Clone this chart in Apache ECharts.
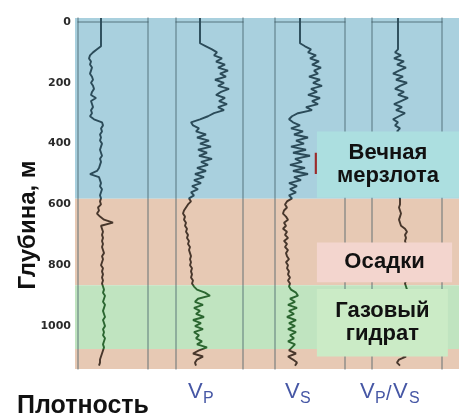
<!DOCTYPE html>
<html><head><meta charset="utf-8">
<script src="https://cdn.jsdelivr.net/npm/echarts@6/dist/echarts.min.js"></script>
<style>html,body{margin:0;padding:0;background:#fff}#c{width:459px;height:414px}</style>
</head><body><div id="c"></div><script>
// ---------- DATA ----------
const depths = [-13,0,10,20,30,40,50,60,70,80,
 90,100,110,120,130,140,150,160,170,180,
 190,200,210,220,230,240,250,260,270,280,
 290,300,310,320,330,340,350,360,370,380,
 390,400,410,420,430,440,450,460,470,480,
 490,500,510,520,530,540,550,560,570,580,
 590,600,610,620,630,640,650,660,670,680,
 690,700,710,720,730,740,750,760,770,780,
 790,800,810,820,830,840,850,860,870,880,
 890,900,910,920,930,940,950,960,970,980,
 990,1000,1010,1020,1030,1040,1050,1060,1070,1080,
 1090,1100,1110,1120,1130];

const density = [1.76,1.76,1.76,1.76,1.76,1.76,1.76,1.76,1.76,1.76,
 1.68,1.60,1.54,1.52,1.56,1.54,1.58,1.56,1.54,1.58,
 1.60,1.56,1.60,1.62,1.58,1.56,1.66,1.56,1.58,1.60,
 1.56,1.58,1.54,1.62,1.78,1.80,1.76,1.78,1.74,1.76,
 1.74,1.78,1.76,1.74,1.76,1.78,1.74,1.76,1.74,1.72,
 1.68,1.54,1.72,1.74,1.76,1.74,1.78,1.76,1.74,1.76,
 1.74,1.76,1.70,1.72,1.68,1.74,1.82,2.00,1.76,1.78,
 1.80,1.78,1.80,1.78,1.80,1.78,1.80,1.82,1.78,1.80,
 1.78,1.76,1.80,1.78,1.80,1.78,1.80,1.78,1.80,1.82,
 1.80,1.84,1.82,1.80,1.84,1.82,1.80,1.82,1.84,1.80,
 1.82,1.84,1.80,1.82,1.80,1.84,1.82,1.80,1.82,1.80,
 1.78,1.76,1.74,1.74,1.72];

const vp = [2.20,2.20,2.20,2.20,2.20,2.20,2.20,2.20,2.20,2.50,
 2.80,3.05,2.90,3.30,3.00,3.45,3.10,3.60,3.20,3.50,
 2.95,3.40,3.10,3.65,3.25,3.00,3.45,3.15,3.55,3.10,
 3.40,2.90,2.60,2.20,1.75,1.85,2.15,2.00,2.50,2.05,
 2.65,2.20,2.75,2.10,2.55,2.15,2.80,2.25,2.60,2.05,
 2.50,1.95,2.40,1.90,2.25,1.80,2.10,1.75,1.90,1.65,
 1.75,1.60,1.50,1.40,1.35,1.45,1.40,1.50,1.45,1.55,
 1.50,1.60,1.55,1.65,1.60,1.70,1.65,1.70,1.75,1.70,
 1.75,1.70,1.80,1.75,1.80,1.75,1.85,1.80,1.90,2.05,
 2.45,2.70,2.10,1.95,2.35,1.90,2.20,2.00,2.40,1.85,
 2.25,1.95,2.35,1.90,2.15,2.00,2.30,2.05,2.55,2.15,
 1.85,2.35,2.05,1.95,2.00];

const vs = [0.50,0.50,0.50,0.50,0.50,0.50,0.50,0.50,0.50,0.60,
 0.72,0.66,0.82,0.70,0.88,0.74,0.92,0.78,0.86,0.68,
 0.90,0.76,0.94,0.72,0.84,0.66,0.90,0.74,0.86,0.62,
 0.74,0.46,0.34,0.28,0.36,0.50,0.32,0.56,0.38,0.66,
 0.42,0.58,0.32,0.62,0.36,0.70,0.40,0.54,0.30,0.60,
 0.36,0.66,0.38,0.52,0.28,0.44,0.30,0.42,0.28,0.34,
 0.24,0.20,0.24,0.18,0.16,0.22,0.26,0.18,0.22,0.16,
 0.24,0.20,0.26,0.18,0.24,0.20,0.26,0.22,0.24,0.28,
 0.22,0.26,0.24,0.28,0.26,0.30,0.26,0.30,0.28,0.32,
 0.42,0.46,0.30,0.40,0.26,0.44,0.28,0.38,0.24,0.42,
 0.28,0.40,0.26,0.42,0.30,0.38,0.26,0.40,0.34,0.28,
 0.42,0.26,0.36,0.44,0.40];

const vpvs = [3.6,3.6,3.6,3.6,3.6,3.6,3.6,3.6,3.6,3.6,
 3.6,3.3,3.9,3.2,4.2,3.5,4.4,3.7,3.1,4.1,
 3.4,4.5,3.8,3.3,4.2,3.6,4.6,3.9,3.2,4.0,
 3.4,4.3,3.7,3.1,3.6,3.3,3.8,3.5,4.0,3.4,
 4.2,3.6,3.9,3.4,4.1,3.7,4.0,3.5,3.9,3.6,
 4.1,3.7,3.9,3.6,3.8,3.7,3.9,3.8,3.7,3.8,
 3.8,3.8,3.7,3.8,3.9,3.8,3.7,3.8,3.9,4.3,
 4.5,4.3,4.4,4.3,4.4,4.3,4.5,4.3,4.4,4.3,
 4.5,4.4,4.3,4.4,4.5,4.3,4.4,4.3,4.4,4.5,
 4.6,4.3,4.7,4.2,4.6,4.3,4.5,4.2,4.6,4.3,
 4.5,4.2,4.6,4.4,4.2,4.5,4.3,4.6,4.4,3.9,
 3.6,4.4,3.7,3.5,3.8];

// short red marker in the Vs track
const markDepths = [430, 500];
const markVs = [0.82, 0.82];

// depth zones (background bands)
const zoneTop = [-13, 581, 866, 1075];
const zoneBottom = [581, 866, 1075, 1141];

// zone labels
const labelText = ['Вечная\nмерзлота', 'Осадки', 'Газовый\nгидрат'];
const labelTop = [360, 725, 878];
const labelBottom = [578, 856, 1100];

const depthTicks = [0, 200, 400, 600, 800, 1000];

// ---------- STYLES ----------
const zoneColors = ['#a9d0de', '#e7c9b4', '#c0e4c0', '#e7c9b4'];
const boxColors = ['#acdfe0', '#f3d5ce', '#cbebc6'];
const boxLeft = 0.63, boxRight = [1.0, 0.982, 0.971];
const DMIN = -13, DMAX = 1141;
const TOP = 18, H = 351;
const trackLine = {show: true, lineStyle: {color: 'rgba(60,85,95,0.5)', width: 1.5}};

const chart = echarts.init(document.getElementById('c'), null, {renderer: 'canvas'});
const pair = (vals) => depths.map((d, i) => [vals[i], d]);
const hidden = {axisTick: {show: false}, axisLabel: {show: false}, splitLine: {show: false}};
const trackY = (gi, pos) => Object.assign({gridIndex: gi, type: 'value', inverse: true, min: DMIN, max: DMAX,
  position: pos, axisLine: trackLine, z: 3}, hidden);
const trackX = (gi, mn, mx) => Object.assign({gridIndex: gi, type: 'value', min: mn, max: mx,
  position: 'bottom', axisLine: trackLine, z: 3}, hidden);
const trackGrid = (left, width) => ({left: left, top: TOP, width: width, height: H});

const lineSeries = (vals, gi) => ({
  type: 'line', xAxisIndex: gi, yAxisIndex: gi, data: pair(vals), showSymbol: false,
  symbol: 'none', lineStyle: {width: 1.9}, z: 4, animation: false
});

const font = (w, s) => w + ' ' + s + 'px "Liberation Sans", Arial, sans-serif';
const vText = (x, y, t, size) => ({type: 'text', x: x, y: y,
  style: {text: t, fill: '#4657a5', verticalAlign: 'middle', font: font('normal', size)}});

const option = {
  animation: false,
  grid: [
    {left: 75, top: TOP, width: 384, height: H},
    trackGrid(78, 70),
    trackGrid(176, 67),
    trackGrid(275, 70),
    trackGrid(372, 70),
    {left: 75, top: TOP, width: 384, height: H}
  ],
  xAxis: [
    {gridIndex: 0, type: 'value', min: 0, max: 1, show: false},
    trackX(1, 1.3, 2.7),
    trackX(2, 1.0, 4.35),
    trackX(3, 0, 1.4),
    trackX(4, 1, 8),
    {gridIndex: 5, type: 'value', min: 0, max: 1, show: false}
  ],
  yAxis: [
    {gridIndex: 0, type: 'value', inverse: true, min: DMIN, max: DMAX,
     axisLine: {show: false}, axisTick: {show: false}, splitLine: {show: false},
     axisLabel: {customValues: depthTicks, margin: 4, color: '#2a2a2a', formatter: (v) => String(v),
       fontFamily: 'DejaVu Sans', fontWeight: 'bold', fontSize: 11}},
    trackY(1, 'left'), trackY(2, 'left'), trackY(3, 'left'), trackY(4, 'left'),
    {gridIndex: 5, type: 'value', inverse: true, min: DMIN, max: DMAX, show: false},
    trackY(1, 'right'), trackY(2, 'right'), trackY(3, 'right'), trackY(4, 'right')
  ],
  visualMap: [{
    type: 'piecewise', show: false, seriesIndex: [1, 2, 3, 4], dimension: 1,
    pieces: [
      {lt: 581, color: '#2b4b59'},
      {gte: 581, lt: 866, color: '#47362b'},
      {gte: 866, lt: 1075, color: '#2b6630'},
      {gte: 1075, color: '#47362b'}
    ]
  }],
  series: [
    {
      type: 'custom', xAxisIndex: 0, yAxisIndex: 0, z: 1, silent: true,
      data: zoneTop.map((t, i) => [i, t, zoneBottom[i]]),
      encode: {x: 0, y: [1, 2]},
      renderItem: function (params, api) {
        const i = api.value(0);
        const p0 = api.coord([0, api.value(1)]);
        const p1 = api.coord([1, api.value(2)]);
        return {type: 'rect', shape: {x: p0[0], y: p0[1], width: p1[0] - p0[0], height: p1[1] - p0[1]},
          style: {fill: zoneColors[i]}};
      }
    },
    lineSeries(density, 1),
    lineSeries(vp, 2),
    lineSeries(vs, 3),
    lineSeries(vpvs, 4),
    {
      type: 'line', xAxisIndex: 3, yAxisIndex: 3, z: 5, showSymbol: false, symbol: 'none',
      data: markDepths.map((d, i) => [markVs[i], d]),
      lineStyle: {width: 2.5, color: '#9b2b2b'}
    },
    {
      type: 'custom', xAxisIndex: 5, yAxisIndex: 5, z: 10, silent: true,
      data: labelTop.map((t, i) => [i, t, labelBottom[i]]),
      encode: {x: 0, y: [1, 2]},
      renderItem: function (params, api) {
        const i = api.value(0);
        const p0 = api.coord([boxLeft, api.value(1)]);
        const p1 = api.coord([boxRight[i], api.value(2)]);
        return {type: 'group', children: [
          {type: 'rect', shape: {x: p0[0], y: p0[1], width: p1[0] - p0[0], height: p1[1] - p0[1]},
            style: {fill: boxColors[i]}},
          {type: 'text', x: (p0[0] + p1[0]) / 2, y: (p0[1] + p1[1]) / 2,
            style: {text: labelText[i], fill: '#111', align: 'center', verticalAlign: 'middle',
              font: font('bold', 22), lineHeight: 23}}
        ]};
      }
    }
  ],
  graphic: [
    {type: 'text', x: 28, y: 225, rotation: Math.PI / 2,
     style: {text: 'Глубина, м', fill: '#111', align: 'center', verticalAlign: 'middle', font: font('bold', 24)}},
    {type: 'text', x: 17, y: 406,
     style: {text: 'Плотность', fill: '#111', align: 'left', verticalAlign: 'middle', font: font('bold', 25)}},
    vText(188, 392, 'V', 22), vText(203, 399, 'P', 16),
    vText(285, 392, 'V', 22), vText(300, 399, 'S', 16),
    vText(360, 392, 'V', 22), vText(375, 399, 'P', 16), vText(386, 394, '/', 20),
    vText(393, 392, 'V', 22), vText(409, 399, 'S', 16)
  ]
};
chart.setOption(option);
</script></body></html>
